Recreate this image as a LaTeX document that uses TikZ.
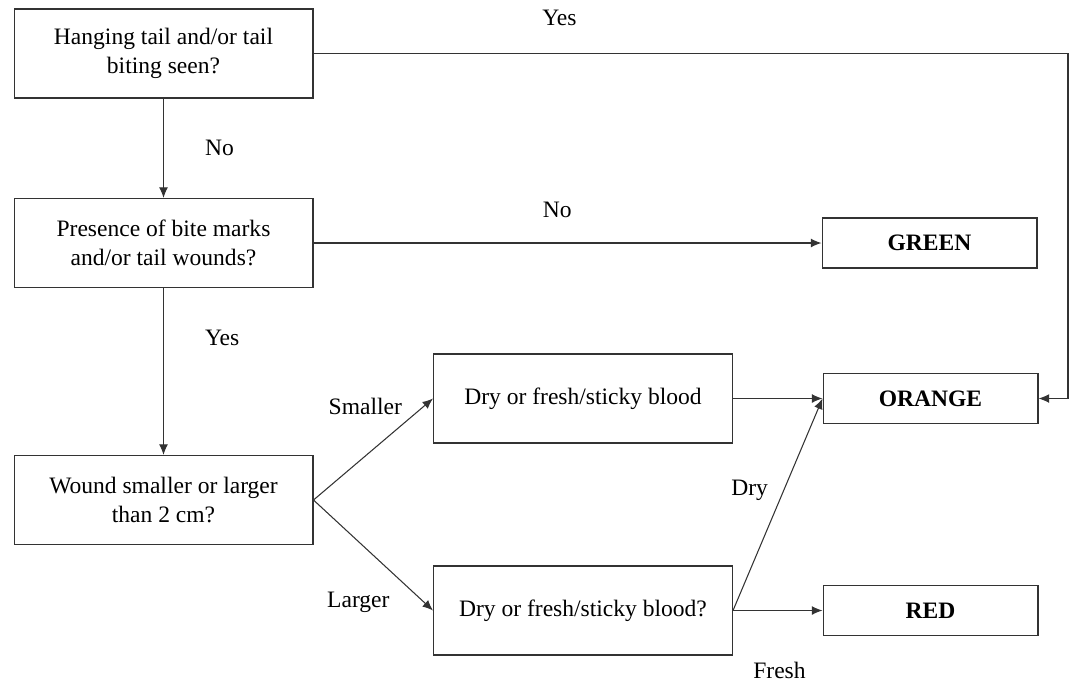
\documentclass[tikz,border=0pt]{standalone}
\usepackage{fontspec}
\setmainfont{Liberation Serif}
\usetikzlibrary{arrows.meta}

\begin{document}
\begin{tikzpicture}[x=0.02cm,y=-0.02cm,->,>={Latex[length=6pt,width=5pt]},line width=0.6pt,draw=black!80,font=\fontsize{13.4}{16.5}\selectfont,
	main node/.style={rectangle,draw,align=center,minimum width=5.98cm,minimum height=1.78cm,inner sep=2pt},
	result node/.style={rectangle,draw,minimum width=4.3cm,minimum height=1cm,font=\fontsize{13.4}{16.5}\selectfont\bfseries}]
		
		\useasboundingbox (0,0) rectangle (1077,684);
		
		\node[main node] (1) at (163.5,53.5) {Hanging tail and/or tail\\biting seen?};
		\node[main node] (2) at (163.5,243) {Presence of bite marks\\and/or tail wounds?};
		\node[main node] (3) at (163.5,500) {Wound smaller or larger\\than 2 cm?};
		\node[main node] (4) at (583,398.5) {Dry or fresh/sticky blood};
		\node[main node] (5) at (583,610.5) {Dry or fresh/sticky blood?};
		
		\node[result node] (6) at (929.5,243) {GREEN};
		\node[result node] (7) at (930.5,398.5) {ORANGE};
		\node[result node] (8) at (930.5,610.5) {RED};
		
		\coordinate (bend) at (1068,53.5);
		
		\path[] (1) edge node[right=20pt] {No} (2);
		\path[] (2) edge node[pos=0.3,right=20pt] {Yes} (3);
		\path[] (2) edge node[pos=0.48,yshift=19pt] {No} (6);
		\path[] (3.east) edge node[xshift=-4.5pt,yshift=24.5pt] {Smaller} (4.west);
		\path[] (3.east) edge node[xshift=-8.5pt,yshift=-26.7pt] {Larger} (5.west);
		\path[] (4) edge (7);
		\path[] (5.east) edge node[xshift=-16pt,yshift=8pt] {Dry} (7.west);
		\path[] (5) edge node[xshift=1pt,yshift=-34pt] {Fresh} (8);
		
		\draw (1.east) -- node[pos=0.326,yshift=20pt] {Yes} (bend) |- (7.east);
		
		\end{tikzpicture}
\end{document}
